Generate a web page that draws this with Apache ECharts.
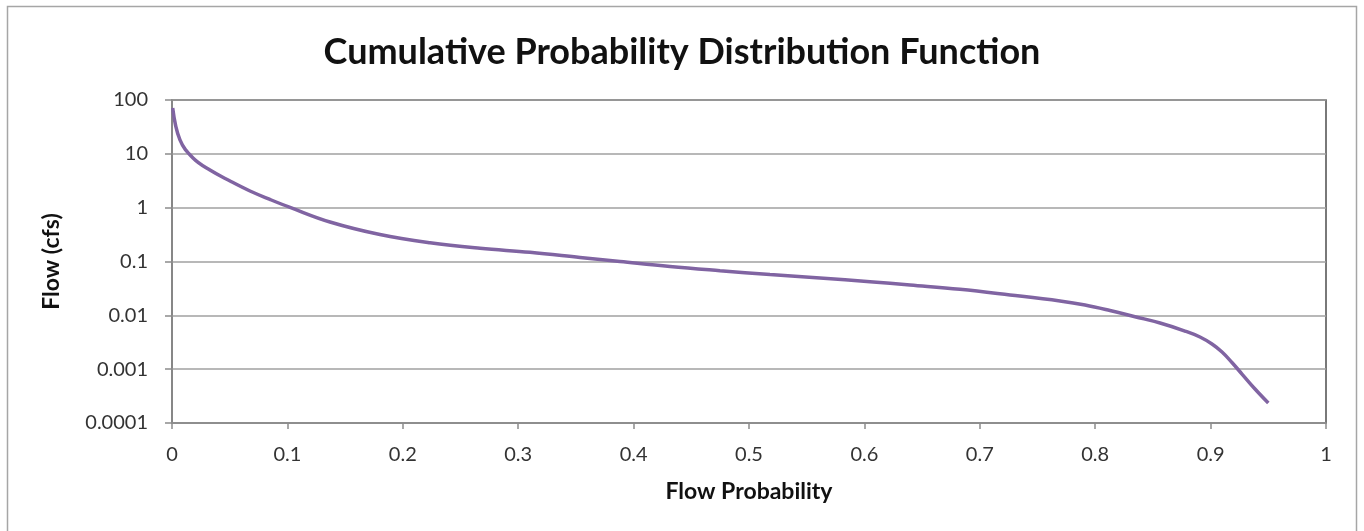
<!DOCTYPE html>
<html>
<head>
<meta charset="utf-8">
<script src="https://cdn.jsdelivr.net/npm/echarts@6/dist/echarts.min.js"></script>
<style>
  html, body { margin: 0; padding: 0; background: #fff; }
  #chart { width: 1364px; height: 531px; }
</style>
</head>
<body>
<div id="chart"></div>
<script>
// Exceedance probability (x) and flow in cfs (y) along the distribution curve
const probX = [0.0006, 0.0069, 0.0182, 0.0329, 0.0503, 0.0676, 0.0849, 0.1023, 0.1369, 0.1802,
  0.2236, 0.2669, 0.3102, 0.3536, 0.3882, 0.4315, 0.4749, 0.5182, 0.5615, 0.6049,
  0.6395, 0.6828, 0.7262, 0.7695, 0.7912, 0.8128, 0.8345, 0.8562, 0.8778, 0.8908,
  0.9012, 0.9099, 0.9185, 0.9272, 0.9385, 0.95];
const flowCfs = [71, 18.1, 8.4, 5.0, 3.13, 2.04, 1.42, 1.01, 0.542, 0.317,
  0.223, 0.176, 0.148, 0.119, 0.100, 0.0807, 0.0675, 0.0573, 0.0493, 0.0421,
  0.0365, 0.0304, 0.0239, 0.01845, 0.01556, 0.0123, 0.00942, 0.0072, 0.00511, 0.00396,
  0.00293, 0.00208, 0.00133, 0.000812, 0.000428, 0.000235];

// Tick labels on the log axis, from 10^-4 up to 10^2
const yTickLabels = ['0.0001', '0.001', '0.01', '0.1', '1', '10', '100'];
const xTickLabels = ['0', '0.1', '0.2', '0.3', '0.4', '0.5', '0.6', '0.7', '0.8', '0.9', '1'];

const titleText = 'Cumulative Probability Distribution Function';
const xAxisTitle = 'Flow Probability';
const yAxisTitle = 'Flow (cfs)';

const seriesData = probX.map((x, i) => [x, flowCfs[i]]);

const FONT = 'Lato, "Open Sans", sans-serif';
const chart = echarts.init(document.getElementById('chart'), null, { renderer: 'canvas' });

chart.setOption({
  animation: false,
  backgroundColor: '#fff',
  graphic: [{
    type: 'rect',
    shape: { x: 7.5, y: 6.5, width: 1349, height: 540 },
    style: { fill: 'none', stroke: '#a6a6a6', lineWidth: 1.5 },
    silent: true,
    z: -1
  }],
  title: {
    text: titleText,
    left: 'center',
    top: 29,
    textStyle: { fontFamily: FONT, fontWeight: 'bold', fontSize: 36, color: '#111' }
  },
  grid: {
    left: 172, top: 100, right: 38, bottom: 108,
    show: true, borderColor: '#4d4d4d', borderWidth: 1.5, backgroundColor: '#fff'
  },
  xAxis: {
    type: 'value',
    min: 0, max: 1, interval: 0.1,
    name: xAxisTitle,
    nameLocation: 'middle',
    nameGap: 57,
    nameTextStyle: { fontFamily: FONT, fontWeight: 'bold', fontSize: 23, color: '#111' },
    axisLine: { show: true, lineStyle: { color: '#8c8c8c', width: 1.5 } },
    axisTick: { show: true, inside: false, length: 6, lineStyle: { color: '#8c8c8c', width: 1.5 } },
    axisLabel: {
      margin: 22,
      fontFamily: FONT, fontSize: 20, color: '#333',
      formatter: v => xTickLabels[Math.round(v * 10)]
    },
    splitLine: { show: false }
  },
  yAxis: {
    type: 'log',
    logBase: 10,
    min: 0.0001, max: 100,
    name: yAxisTitle,
    nameLocation: 'middle',
    nameGap: 109,
    nameRotate: 90,
    nameTextStyle: { fontFamily: FONT, fontWeight: 'bold', fontSize: 23, color: '#111' },
    axisLine: { show: true, lineStyle: { color: '#8c8c8c', width: 1.5 } },
    axisTick: { show: true, length: 7, lineStyle: { color: '#8c8c8c', width: 1.5 } },
    axisLabel: {
      margin: 24,
      fontFamily: FONT, fontSize: 20, color: '#333',
      formatter: v => yTickLabels[Math.round(Math.log10(v)) + 4]
    },
    splitLine: { show: true, lineStyle: { color: '#a0a0a0', width: 1.5 } }
  },
  series: [{
    type: 'line',
    data: seriesData,
    showSymbol: false,
    smooth: 0.4,
    lineStyle: { color: '#8064a2', width: 3.5 },
    z: 3
  }]
});
</script>
</body>
</html>
